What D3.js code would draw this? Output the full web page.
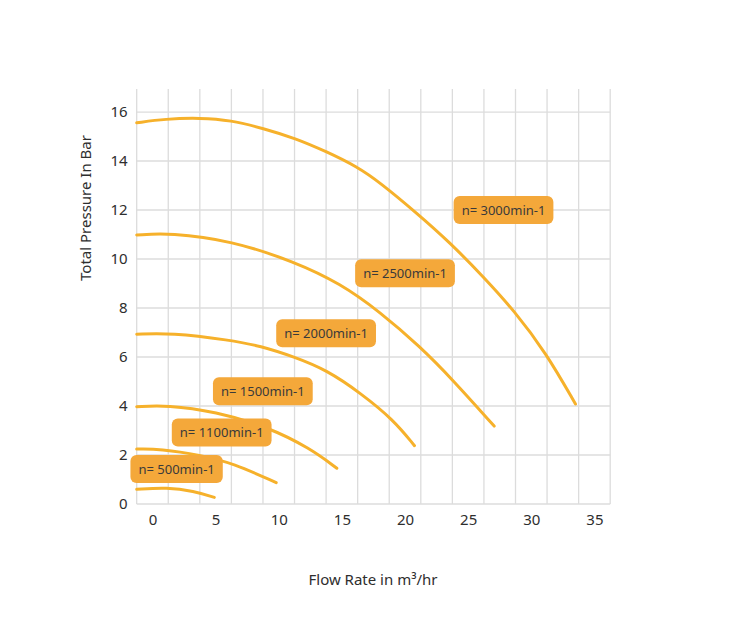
<!DOCTYPE html>
<html>
<head>
<meta charset="utf-8">
<script src="https://cdn.jsdelivr.net/npm/d3@7"></script>
<style>
  body { margin: 0; background: #fff; }
  svg { display: block; }
</style>
</head>
<body>
<script>
// pump curves, flow in m3/hr vs pressure in bar
var curve3000 = [[-1.25,15.56],[1,15.72],[3.8,15.76],[6.17,15.67],[8.8,15.33],[11.3,14.93],[13.8,14.38],[16.2,13.77],[18,13.13],[20.94,11.87],[23.5,10.7],[26.2,9.28],[28.6,7.92],[31.2,6.15],[33.5,4.08]];
var curve2500 = [[-1.25,10.98],[1.4,11.07],[6.25,10.75],[11.25,9.89],[14.87,9.0],[18,7.85],[21.2,6.42],[23.8,5.06],[27.06,3.18]];
var curve2000 = [[-1.25,6.93],[1.42,6.99],[6.17,6.69],[8.54,6.45],[11.2,6.01],[13.8,5.47],[16.5,4.52],[19.1,3.43],[20.75,2.38]];
var curve1500 = [[-1.25,3.97],[1.16,4.04],[5,3.77],[9.07,3.16],[12.5,2.27],[14.6,1.46]];
var curve1100 = [[-1.25,2.24],[0.6,2.25],[3.8,2.0],[6.4,1.66],[9.8,0.87]];
var curve500 = [[-1.25,0.6],[1.16,0.68],[3.27,0.53],[4.9,0.27]];

var curves = [curve3000, curve2500, curve2000, curve1500, curve1100, curve500];

var labels = ["n= 3000min-1", "n= 2500min-1", "n= 2000min-1", "n= 1500min-1", "n= 1100min-1", "n= 500min-1"];
var labelX = [27.8, 20.0, 13.75, 8.74, 5.48, 1.91];
var labelY = [12.0, 9.42, 6.97, 4.6, 2.92, 1.43];

var xTicks = [0, 5, 10, 15, 20, 25, 30, 35];
var yTicks = [0, 2, 4, 6, 8, 10, 12, 14, 16];
var xGrid = d3.range(-1.25, 36.3, 2.5);

var lineColor = "#f6b12b";
var boxColor = "#f4a83a";
var font = "'Noto Sans', sans-serif";

var svg = d3.select("body").append("svg")
  .attr("width", 751)
  .attr("height", 620);

var x = d3.scaleLinear().domain([-1.25, 36.25]).range([136.7, 610.2]);
var y = d3.scaleLinear().domain([0, 16.94]).range([504, 89]);

// grid
svg.append("g").selectAll("line")
  .data(xGrid)
  .enter().append("line")
  .attr("x1", function(d) { return x(d); })
  .attr("x2", function(d) { return x(d); })
  .attr("y1", y(0))
  .attr("y2", y.range()[1])
  .attr("stroke", "#dcdcdc")
  .attr("stroke-width", 1.3);

svg.append("g").selectAll("line")
  .data(yTicks)
  .enter().append("line")
  .attr("x1", x.range()[0])
  .attr("x2", x.range()[1])
  .attr("y1", function(d) { return y(d); })
  .attr("y2", function(d) { return y(d); })
  .attr("stroke", "#dcdcdc")
  .attr("stroke-width", 1.3);

// axes
var xAxis = svg.append("g")
  .attr("transform", "translate(0," + y(0) + ")")
  .call(d3.axisBottom(x).tickValues(xTicks).tickSize(0).tickPadding(10));
var yAxis = svg.append("g")
  .attr("transform", "translate(" + x.range()[0] + ",0)")
  .call(d3.axisLeft(y).tickValues(yTicks).tickSize(0).tickPadding(9));

[xAxis, yAxis].forEach(function(a) {
  a.select(".domain").remove();
  a.selectAll("text")
    .style("font-family", font)
    .style("font-size", "15px")
    .attr("fill", "#2e2e2e");
});

// curves
var line = d3.line()
  .x(function(d) { return x(d[0]); })
  .y(function(d) { return y(d[1]); })
  .curve(d3.curveBasis);

svg.append("g").selectAll("path")
  .data(curves)
  .enter().append("path")
  .attr("d", line)
  .attr("fill", "none")
  .attr("stroke", lineColor)
  .attr("stroke-width", 3)
  .attr("stroke-linecap", "round");

// speed labels
var tags = svg.append("g").selectAll("g")
  .data(labels)
  .enter().append("g")
  .attr("transform", function(d, i) { return "translate(" + x(labelX[i]) + "," + y(labelY[i]) + ")"; });

tags.append("rect")
  .attr("fill", boxColor)
  .attr("rx", 6)
  .attr("ry", 6);

tags.append("text")
  .text(function(d) { return d; })
  .attr("text-anchor", "middle")
  .attr("dy", "0.35em")
  .style("font-family", font)
  .style("font-size", "13px")
  .attr("fill", "#3a3a3a");

tags.each(function() {
  var g = d3.select(this);
  var w = g.select("text").node().getComputedTextLength() + 16;
  g.select("rect")
    .attr("x", -w / 2)
    .attr("y", -14)
    .attr("width", w)
    .attr("height", 28);
});

// titles
svg.append("text")
  .attr("transform", "translate(91,208) rotate(-90)")
  .attr("text-anchor", "middle")
  .style("font-family", font)
  .style("font-size", "15px")
  .attr("fill", "#2e2e2e")
  .text("Total Pressure In Bar");

svg.append("text")
  .attr("x", 373)
  .attr("y", 585)
  .attr("text-anchor", "middle")
  .style("font-family", font)
  .style("font-size", "15px")
  .attr("fill", "#2e2e2e")
  .text("Flow Rate in m³/hr");
</script>
</body>
</html>
